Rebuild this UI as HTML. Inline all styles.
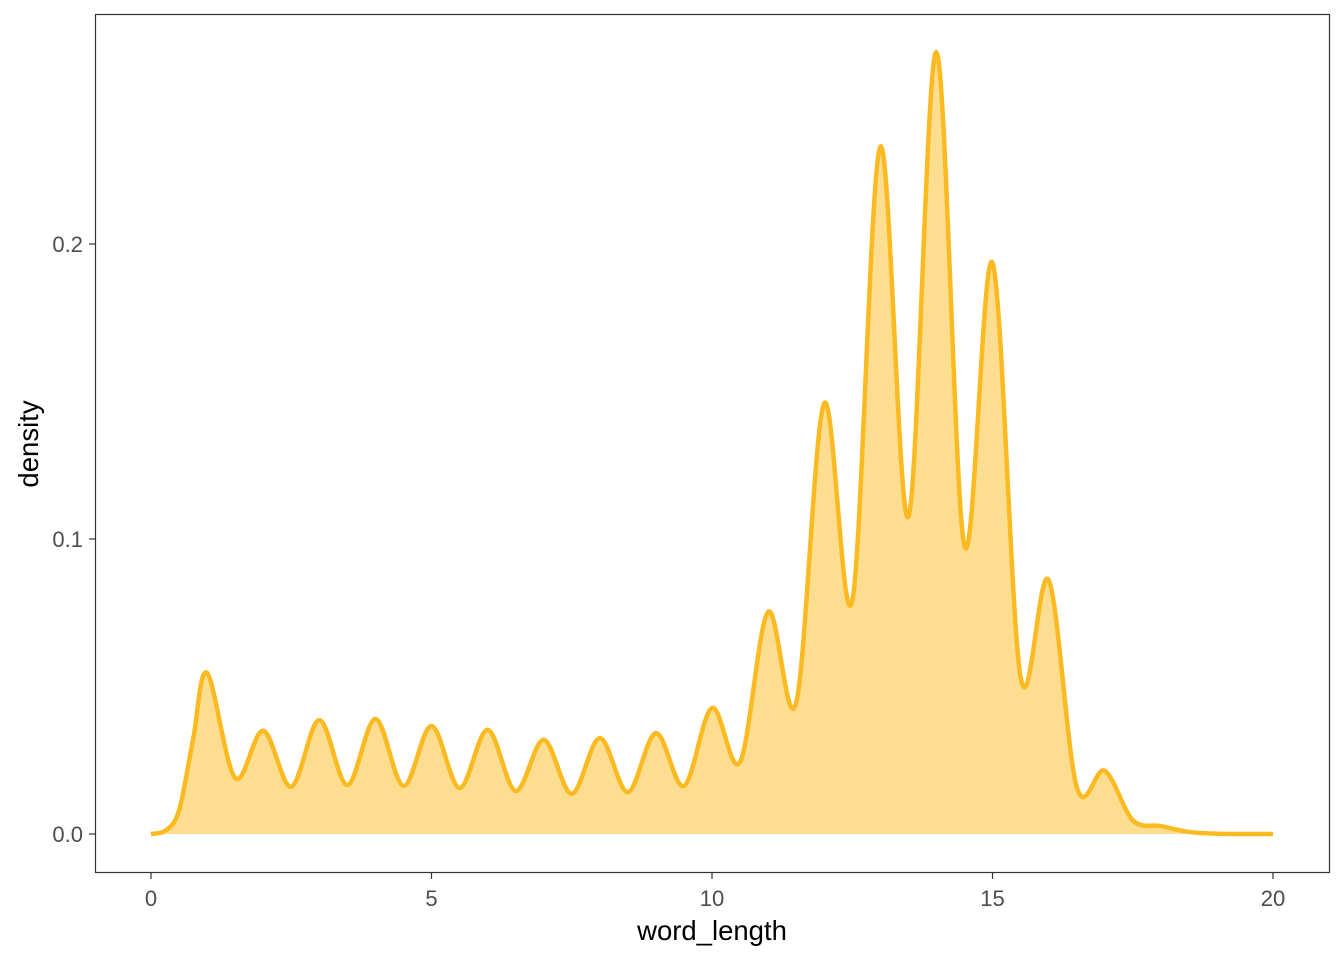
<!DOCTYPE html>
<html><head><meta charset="utf-8"><style>
body{margin:0;background:#fff;}
svg{display:block;font-family:"Liberation Sans",Arial,sans-serif;}
</style></head><body>
<svg id="chart" width="1344" height="960">
<rect x="95.5" y="14.5" width="1234" height="858" fill="#fff" stroke="#333" stroke-width="1.2"/>
<g id="marks"></g>
<g id="axes"></g>
<text x="712" y="940" text-anchor="middle" font-size="27.5" fill="#000">word_length</text>
<text transform="translate(38,444) rotate(-90)" text-anchor="middle" font-size="27.5" fill="#000">density</text>
</svg>
<script>
const xs = [0,0.25,0.5,0.75,1,1.5,2,2.5,3,3.5,4,4.5,5,5.5,6,6.5,7,7.5,8,8.5,9,9.5,10,10.5,11,11.5,12,12.5,13,13.5,14,14.5,15,15.5,16,16.5,17,17.5,18,18.5,19,19.5,20];
const dens = [0,0.001,0.008,0.032,0.0546,0.019,0.035,0.016,0.0386,0.0166,0.039,0.0163,0.0366,0.0156,0.0353,0.0146,0.0319,0.0136,0.0325,0.0142,0.0342,0.0163,0.0427,0.0244,0.0753,0.0444,0.146,0.079,0.233,0.1075,0.265,0.0976,0.1936,0.0532,0.0861,0.016,0.0214,0.0047,0.0027,0.0007,0.0001,0,0];
const xTicks = [0,5,10,15,20];
const xTickLabels = ["0","5","10","15","20"];
const yTicks = [0,0.1,0.2];
const yTickLabels = ["0.0","0.1","0.2"];

const sx = v => 151 + v*(1273-151)/20;
const sy = v => 834 - v*2950;
const NS="http://www.w3.org/2000/svg";
const pts = xs.map((x,i)=>[sx(x),sy(dens[i])]);
let d = "M"+pts[0][0]+","+pts[0][1];
for(let i=0;i<pts.length-1;i++){
  const p0=pts[Math.max(0,i-1)],p1=pts[i],p2=pts[i+1],p3=pts[Math.min(pts.length-1,i+2)];
  let c1y=p1[1]+(p2[1]-p0[1])/6, c2y=p2[1]-(p3[1]-p1[1])/6;
  c1y=Math.min(c1y,sy(0)); c2y=Math.min(c2y,sy(0));
  d+=" C"+(p1[0]+(p2[0]-p0[0])/6)+","+c1y+" "+(p2[0]-(p3[0]-p1[0])/6)+","+c2y+" "+p2[0]+","+p2[1];
}
const marks=document.getElementById('marks');
const area=document.createElementNS(NS,'path');
area.setAttribute('d',d+" L"+sx(20)+","+sy(0)+" L"+sx(0)+","+sy(0)+" Z");
area.setAttribute('fill','#FDDE91');


marks.appendChild(area);
const line=document.createElementNS(NS,'path');
line.setAttribute('d',d);
line.setAttribute('fill','none');
line.setAttribute('stroke','#FBBA22');
line.setAttribute('stroke-width','4.5');
line.setAttribute('stroke-linejoin','round');


marks.appendChild(line);

const axes=document.getElementById('axes');
xTicks.forEach((t,i)=>{
  const tk=document.createElementNS(NS,'line');
  tk.setAttribute('x1',sx(t));tk.setAttribute('x2',sx(t));tk.setAttribute('y1',873);tk.setAttribute('y2',879);
  tk.setAttribute('stroke','#333');tk.setAttribute('stroke-width','1.2');
  
  
  axes.appendChild(tk);
  const tx=document.createElementNS(NS,'text');
  tx.setAttribute('x',sx(t));tx.setAttribute('y',906);tx.setAttribute('text-anchor','middle');
  tx.setAttribute('font-size','22');tx.setAttribute('fill','#4d4d4d');
  tx.textContent=xTickLabels[i];
  
  
  axes.appendChild(tx);
});
yTicks.forEach((t,i)=>{
  const tk=document.createElementNS(NS,'line');
  tk.setAttribute('x1',89);tk.setAttribute('x2',95);tk.setAttribute('y1',sy(t));tk.setAttribute('y2',sy(t));
  tk.setAttribute('stroke','#333');tk.setAttribute('stroke-width','1.2');
  
  
  axes.appendChild(tk);
  const tx=document.createElementNS(NS,'text');
  tx.setAttribute('x',83);tx.setAttribute('y',sy(t)+8);tx.setAttribute('text-anchor','end');
  tx.setAttribute('font-size','22');tx.setAttribute('fill','#4d4d4d');
  tx.textContent=yTickLabels[i];
  
  
  axes.appendChild(tx);
});
</script>
</body></html>
